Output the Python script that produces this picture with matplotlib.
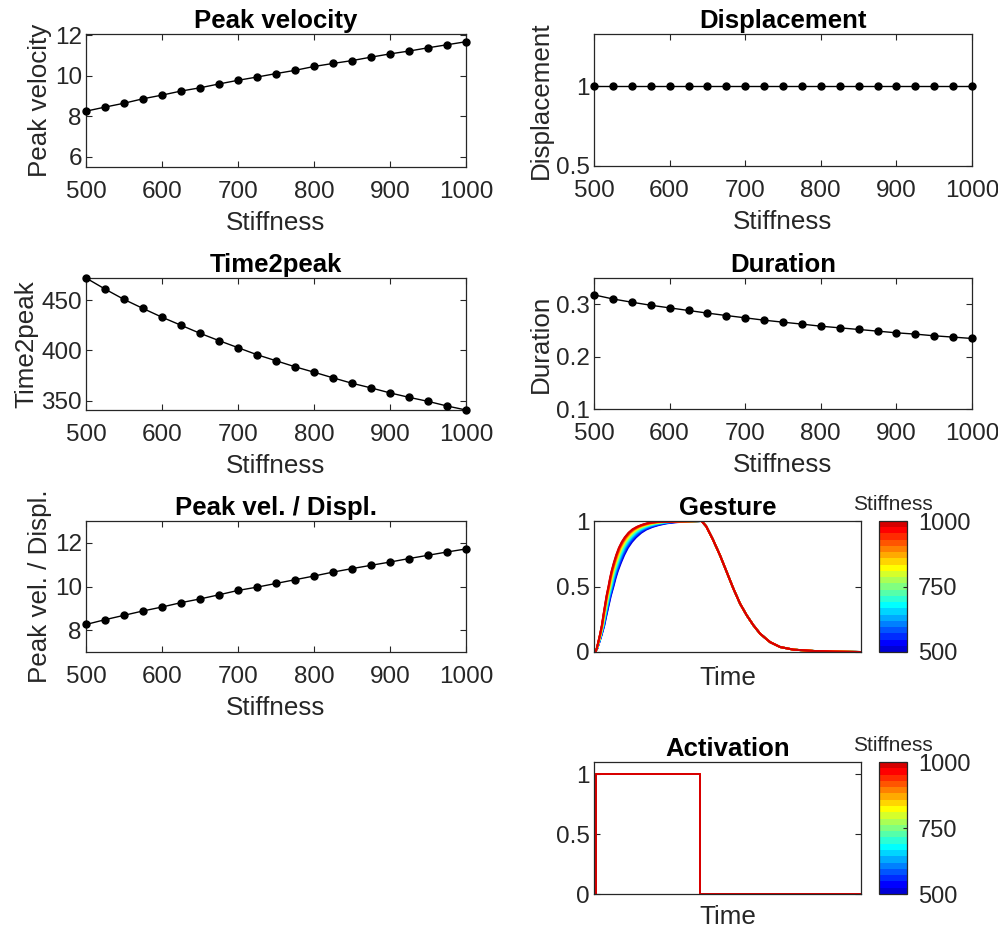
import numpy as np
import matplotlib
matplotlib.use("Agg")
import matplotlib.pyplot as plt
from matplotlib.colors import ListedColormap, Normalize
from matplotlib.cm import ScalarMappable

# ---------------- data ----------------
stiffness = [500, 525, 550, 575, 600, 625, 650, 675, 700, 725, 750,
             775, 800, 825, 850, 875, 900, 925, 950, 975, 1000]
peak_velocity = [8.25, 8.45, 8.64, 8.86, 9.04, 9.24, 9.40, 9.59, 9.77, 9.93, 10.10,
                 10.26, 10.45, 10.60, 10.74, 10.91, 11.07, 11.21, 11.37, 11.52, 11.67]
displacement = [1.0, 1.0, 1.0, 1.0, 1.0, 1.0, 1.0, 1.0, 1.0, 1.0, 1.0,
                1.0, 1.0, 1.0, 1.0, 1.0, 1.0, 1.0, 1.0, 1.0, 1.0]
time2peak = [472.0, 461.0, 450.7, 441.7, 433.0, 425.0, 417.0, 409.7, 402.7, 395.7, 389.7,
             383.7, 378.3, 372.7, 367.3, 362.7, 357.7, 353.3, 349.3, 344.7, 340.7]
duration = [0.3178, 0.3100, 0.3038, 0.2980, 0.2930, 0.2880, 0.2830, 0.2784, 0.2740, 0.2695, 0.2657,
            0.2620, 0.2580, 0.2549, 0.2518, 0.2486, 0.2454, 0.2429, 0.2397, 0.2372, 0.2346]
pv_over_disp = [8.26, 8.48, 8.68, 8.88, 9.06, 9.26, 9.43, 9.62, 9.82, 9.97, 10.14,
                10.31, 10.48, 10.66, 10.82, 10.97, 11.12, 11.28, 11.43, 11.58, 11.72]

# gesture profile read for the stiffest curve (time as fraction of the window)
rise_t = [0.0, 0.005, 0.010, 0.016, 0.022, 0.029, 0.035, 0.041, 0.047, 0.054, 0.060,
          0.066, 0.074, 0.083, 0.093, 0.104, 0.115, 0.129, 0.143, 0.160, 0.178,
          0.198, 0.220, 0.248]
rise_v = [0.0, 0.0, 0.025, 0.076, 0.13, 0.20, 0.28, 0.356, 0.43, 0.50, 0.565,
          0.62, 0.68, 0.74, 0.795, 0.84, 0.875, 0.91, 0.935, 0.955, 0.97,
          0.982, 0.99, 0.995]
fall_t = [0.403, 0.420, 0.445, 0.472, 0.497, 0.522, 0.547, 0.572, 0.597, 0.622,
          0.659, 0.697, 0.747, 0.822, 0.897, 1.0]
fall_v = [1.0, 0.96, 0.86, 0.738, 0.611, 0.484, 0.369, 0.280, 0.204, 0.140,
          0.076, 0.038, 0.018, 0.008, 0.003, 0.0]
onset_t = 0.005
act_t = [0.0, 0.0075, 0.0075, 0.3975, 0.3975, 1.0]
act_v = [0.0, 0.0, 1.0, 1.0, 0.0, 0.0]

# ---------------- style ----------------
plt.rcParams['font.family'] = ['Liberation Sans', 'DejaVu Sans']
GRAY = (0.15, 0.15, 0.15)
TICK_FS = 17.5
LABEL_FS = 18.7
TITLE_FS = 18.5
CB_FS = 15

W, H = 998, 930
fig = plt.figure(figsize=(W / 100, H / 100), dpi=100)


def add_ax(x0, y0, x1, y1):
    return fig.add_axes([x0 / W, 1 - y1 / H, (x1 - x0) / W, (y1 - y0) / H])


def style(ax):
    for s in ax.spines.values():
        s.set_color(GRAY)
        s.set_linewidth(0.9)
    ax.tick_params(direction='in', length=4, width=0.8, colors=GRAY,
                   labelsize=TICK_FS, top=True, right=True,
                   labelcolor=GRAY)
    ax.tick_params(axis='x', pad=10)
    ax.tick_params(axis='y', pad=3)


def matlab_jet(n):
    m = int(np.ceil(n / 4))
    u = np.concatenate([np.arange(1, m + 1) / m, np.ones(m - 1), np.arange(m, 0, -1) / m])
    g = int(np.ceil(m / 2)) - (1 if n % 4 == 1 else 0) + np.arange(1, len(u) + 1)
    r = g + m
    b = g - m
    J = np.zeros((n, 3))
    for idx, val in zip(r, u):
        if 1 <= idx <= n:
            J[idx - 1, 0] = val
    for idx, val in zip(g, u):
        if 1 <= idx <= n:
            J[idx - 1, 1] = val
    for idx, val in zip(b, u):
        if 1 <= idx <= n:
            J[idx - 1, 2] = val
    return J


cmap = ListedColormap(matlab_jet(len(stiffness)))
norm = Normalize(500, 1000)


def scatter_panel(box, y, title, ylim, yticks, yticklabels=None):
    ax = add_ax(*box)
    ax.plot(stiffness, y, '-', color='k', lw=1.0, marker='o', ms=5,
            mfc='k', mec='k', clip_on=False, zorder=3)
    ax.set_xlim(500, 1000)
    ax.set_ylim(*ylim)
    ax.set_xticks([500, 600, 700, 800, 900, 1000])
    ax.set_yticks(yticks)
    if yticklabels is not None:
        ax.set_yticklabels(yticklabels)
    ax.set_xlabel('Stiffness', fontsize=LABEL_FS, color=GRAY, labelpad=6)
    ax.set_ylabel(title, fontsize=LABEL_FS, color=GRAY, labelpad=2)
    ax.set_title(title, fontsize=TITLE_FS, fontweight='bold', pad=4)
    style(ax)
    return ax


ax1 = scatter_panel((86, 34, 466, 167), peak_velocity, 'Peak velocity', (5.5, 12.05), [6, 8, 10, 12])
ax2 = scatter_panel((594, 34, 972, 166), displacement, 'Displacement', (0.5, 1.33), [0.5, 1], ['0.5', '1'])
ax3 = scatter_panel((86, 278, 466, 410), time2peak, 'Time2peak', (340.7, 472), [350, 400, 450])
ax4 = scatter_panel((594, 278, 972, 409), duration, 'Duration', (0.1, 0.35), [0.1, 0.2, 0.3])
ax5 = scatter_panel((86, 521, 466, 652), pv_over_disp, 'Peak vel. / Displ.', (7, 13), [8, 10, 12])

# ---------------- gesture ----------------
ax6 = add_ax(594, 521, 861, 652)
ref = time2peak[-1]
for i, k in enumerate(stiffness):
    sc = time2peak[i] / ref
    t_r = [onset_t + (t - onset_t) * sc if t > onset_t else t for t in rise_t]
    ax6.plot(t_r + fall_t, rise_v + fall_v, color=cmap(norm(k)), lw=1.4)
ax6.set_xlim(0, 1)
ax6.set_ylim(0, 1)
ax6.set_xticks([])
ax6.set_yticks([0, 0.5, 1])
ax6.set_yticklabels(['0', '0.5', '1'])
ax6.set_xlabel('Time', fontsize=LABEL_FS, color=GRAY, labelpad=10)
ax6.set_title('Gesture', fontsize=TITLE_FS, fontweight='bold', pad=4)
style(ax6)


def add_cbar(box):
    cax = add_ax(*box)
    cb = fig.colorbar(ScalarMappable(norm=norm, cmap=cmap), cax=cax, ticks=[500, 750, 1000])
    cax.tick_params(direction='in', length=3, colors=GRAY, labelsize=CB_FS + 2,
                    labelcolor=GRAY, pad=8)
    cb.outline.set_edgecolor(GRAY)
    cb.outline.set_linewidth(0.9)
    cax.set_title('Stiffness', fontsize=CB_FS, color=GRAY, pad=8)
    return cb


add_cbar((879, 521, 907, 652))

# ---------------- activation ----------------
ax7 = add_ax(594, 762, 861, 894)
for i, k in enumerate(stiffness):
    ax7.plot(act_t, act_v, color=cmap(norm(k)), lw=1.3)
ax7.set_xlim(0, 1)
ax7.set_ylim(0, 1.1)
ax7.set_xticks([])
ax7.set_yticks([0, 0.5, 1])
ax7.set_yticklabels(['0', '0.5', '1'])
ax7.set_xlabel('Time', fontsize=LABEL_FS, color=GRAY, labelpad=8)
ax7.set_title('Activation', fontsize=TITLE_FS, fontweight='bold', pad=4)
style(ax7)

add_cbar((879, 762, 907, 894))

fig.savefig('out.png', dpi=100)
